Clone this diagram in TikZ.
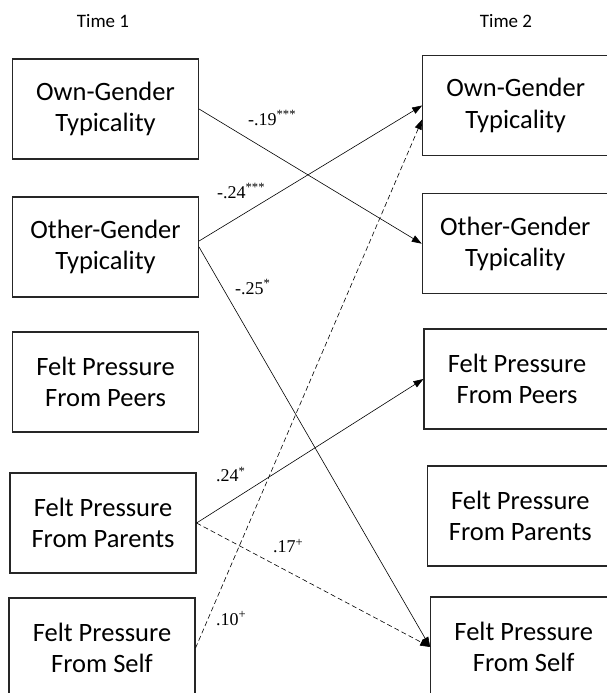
\documentclass[tikz,border=0pt]{standalone}
\usepackage{fontspec}
\setmainfont{Carlito}
\newfontfamily\coeffont{Liberation Serif}
\usetikzlibrary{arrows.meta}
\definecolor{BoxLine}{HTML}{262626}

\tikzset{
  varbox/.style={
    draw=BoxLine,
    line width=1.1pt,
    minimum width=186pt,
    minimum height=100pt,
    inner sep=0pt,
    align=center,
    font=\fontsize{26.5}{31.5}\selectfont
  },
  pathline/.style={line width=0.6pt, -{Triangle[length=10pt,width=7pt]}},
  pathdash/.style={pathline, dash pattern=on 5pt off 3pt},
  coef/.style={anchor=base west, inner sep=0pt, font=\coeffont\fontsize{18}{20}\selectfont},
  timelabel/.style={inner sep=0pt, font=\fontsize{19}{21}\selectfont}
}

\begin{document}
\begin{tikzpicture}[x=1pt,y=-1pt]
  \useasboundingbox (0,0) rectangle (607,693);

  \node[timelabel] (time1) at (103,21) {Time 1};
  \node[timelabel] (time2) at (506,21) {Time 2};

  % Time 1
  \node[varbox] (own1) at (105.5,109) {Own-Gender\\Typicality};
  \node[varbox] (other1) at (105.5,247) {Other-Gender\\Typicality};
  \node[varbox] (peers1) at (105.5,382) {Felt Pressure\\From Peers};
  \node[varbox] (parents1) at (103,523) {Felt Pressure\\From Parents};
  \node[varbox] (self1) at (102,648) {Felt Pressure\\From Self};

  % Time 2
  \node[varbox] (own2) at (515.7,105.5) {Own-Gender\\Typicality};
  \node[varbox] (other2) at (515.3,243.7) {Other-Gender\\Typicality};
  \node[varbox] (peers2) at (517,379) {Felt Pressure\\From Peers};
  \node[varbox] (parents2) at (520.3,516) {Felt Pressure\\From Parents};
  \node[varbox] (self2) at (523.7,647) {Felt Pressure\\From Self};

  % paths
  \draw[pathline] (own1.east) -- (other2.west);
  \draw[pathline] ([yshift=6pt]other1.east) -- (own2.west);
  \draw[pathline] (other1.east) -- (self2.west);
  \draw[pathline] (parents1.east) -- (peers2.west);
  \draw[pathdash] (parents1.east) -- (self2.west);
  \draw[pathdash] (self1.east) -- ([yshift=-14pt]own2.west);

  \node[coef] (c1) at (248,125) {-.19\textsuperscript{***}};
  \node[coef] (c2) at (217,198) {-.24\textsuperscript{***}};
  \node[coef] (c3) at (235,294) {-.25\textsuperscript{*}};
  \node[coef] (c4) at (216,481.5) {.24\textsuperscript{*}};
  \node[coef] (c5) at (273,552.5) {.17\textsuperscript{+}};
  \node[coef] (c6) at (216,625) {.10\textsuperscript{+}};
\end{tikzpicture}
\end{document}
